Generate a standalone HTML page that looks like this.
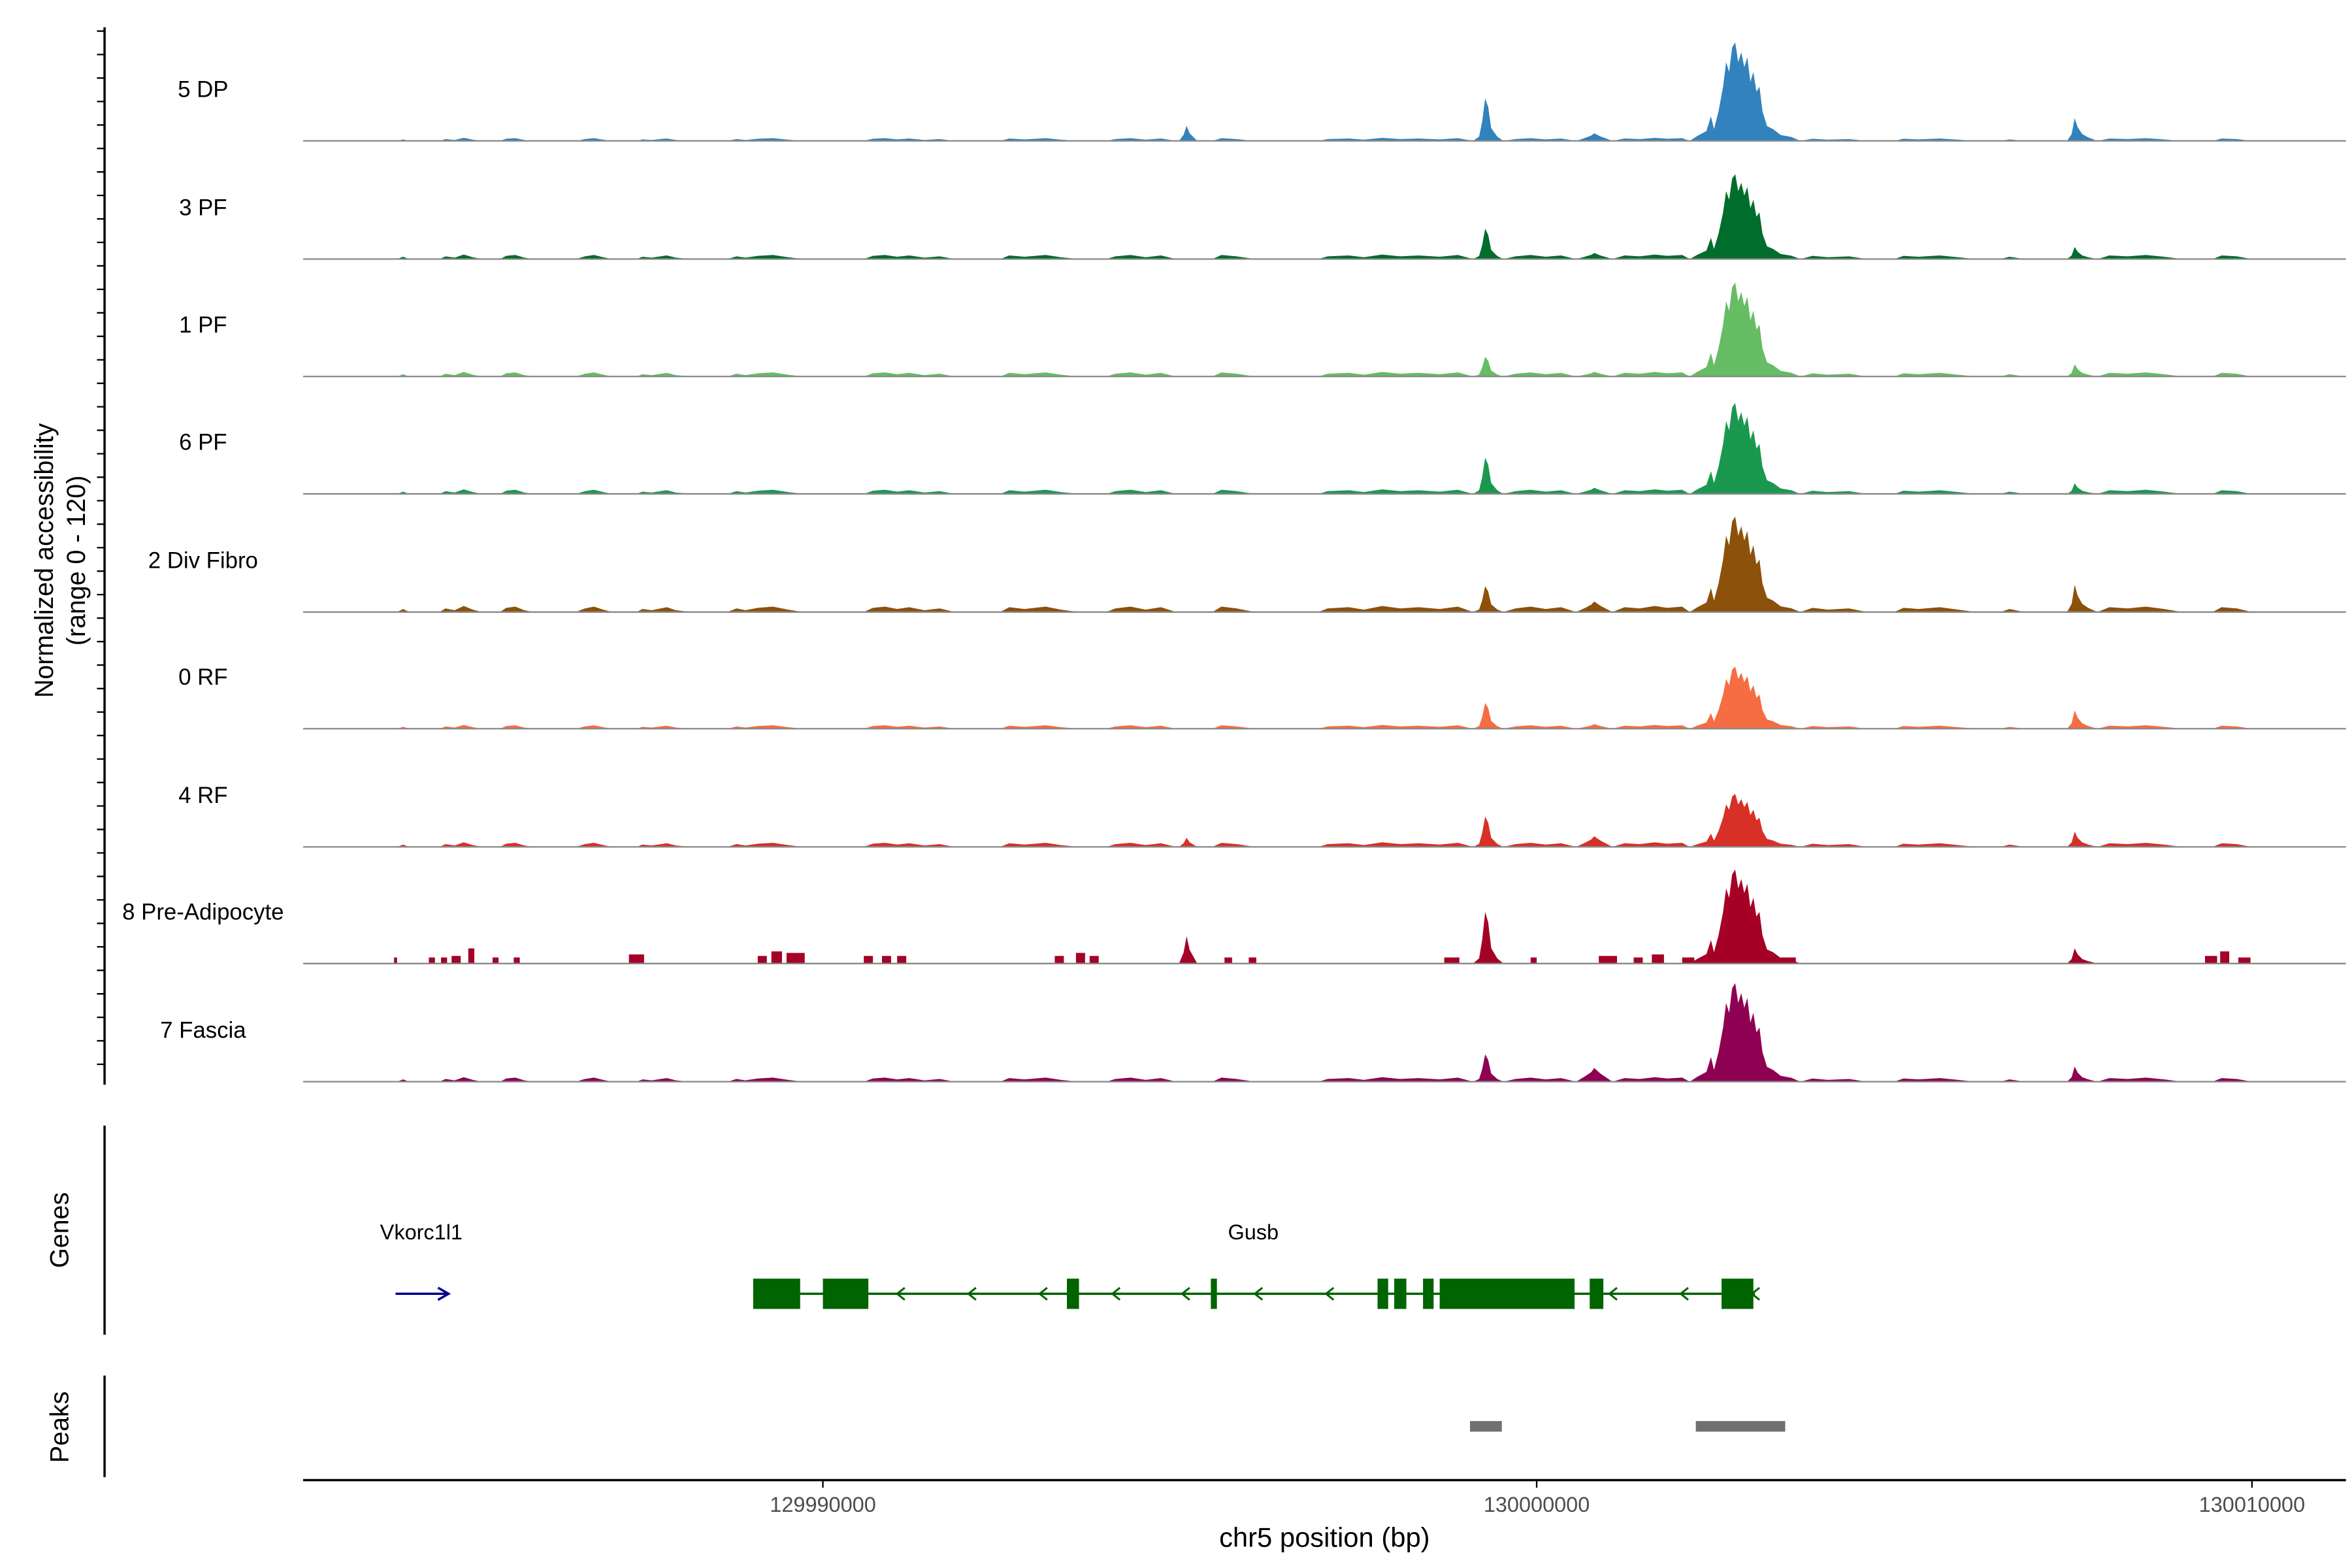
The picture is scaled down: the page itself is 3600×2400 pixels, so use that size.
<!DOCTYPE html>
<html><head><meta charset="utf-8"><style>html,body{margin:0;padding:0;background:#fff}svg{display:block}</style></head>
<body>
<svg width="3600" height="2400" viewBox="0 0 1552 1035" preserveAspectRatio="none" xmlns="http://www.w3.org/2000/svg" font-family="Liberation Sans, sans-serif">
<defs>
<path id="big" d="M1115,0 L1120,-0.05 L1126,-0.1 L1129,-0.25 L1131,-0.12 L1134,-0.3 L1137,-0.55 L1139,-0.8 L1141,-0.7 L1143,-0.95 L1145,-1 L1147,-0.8 L1149,-0.9 L1151,-0.75 L1153,-0.85 L1155,-0.6 L1157,-0.7 L1159,-0.5 L1161,-0.55 L1163,-0.3 L1166,-0.15 L1170,-0.12 L1175,-0.06 L1182,-0.04 L1188,0 Z"/>
<path id="p981" d="M972,0 L976,-0.1 L978,-0.45 L980,-1 L982,-0.8 L984,-0.3 L988,-0.1 L992,0 Z"/>
<path id="p1370" d="M1364,0 L1367,-0.3 L1369,-1 L1371,-0.6 L1374,-0.3 L1378,-0.15 L1384,0 Z"/>
<path id="p784" d="M778,0 L781,-0.4 L783,-1 L785,-0.5 L790,0 Z"/>
<path id="p1050" d="M1040,0 L1046,-0.4 L1050,-0.7 L1052,-1 L1056,-0.6 L1060,-0.3 L1064,0 Z"/>
<path id="nz" d="M262,0 L266,-0.5 L270,0 L290,0 L294,-0.6 L300,-0.3 L306,-1 L312,-0.4 L318,0 L330,0 L334,-0.7 L340,-0.9 L346,-0.3 L352,0 L380,0 L386,-0.6 L392,-0.9 L398,-0.4 L404,0 L420,0 L424,-0.5 L430,-0.3 L440,-0.8 L446,-0.3 L456,0 L480,0 L486,-0.6 L492,-0.3 L500,-0.7 L510,-0.9 L520,-0.4 L530,0 L570,0 L576,-0.7 L584,-0.9 L592,-0.5 L600,-0.8 L610,-0.3 L620,-0.6 L630,0 L660,0 L666,-0.8 L676,-0.5 L690,-0.9 L700,-0.4 L712,0 L730,0 L736,-0.6 L746,-0.9 L756,-0.4 L766,-0.8 L776,0 L800,0 L806,-0.9 L816,-0.6 L828,0 L870,0 L876,-0.6 L890,-0.8 L900,-0.4 L912,-1 L924,-0.6 L936,-0.8 L950,-0.5 L962,-0.9 L972,0 L992,0 L1000,-0.6 L1010,-0.9 L1020,-0.5 L1030,-0.8 L1040,0 L1064,0 L1072,-0.8 L1082,-0.6 L1092,-1 L1100,-0.7 L1110,-0.9 L1115,0 L1188,0 L1196,-0.7 L1206,-0.4 L1220,-0.6 L1232,0 L1250,0 L1256,-0.7 L1266,-0.5 L1280,-0.8 L1292,-0.4 L1304,0 L1320,0 L1326,-0.5 L1336,0 L1384,0 L1392,-0.8 L1404,-0.6 L1416,-0.9 L1428,-0.5 L1440,0 L1460,0 L1466,-0.8 L1476,-0.6 L1486,0 Z"/>
</defs>
<rect width="1552" height="1035" fill="#fff"/>
<line x1="69" y1="18" x2="69" y2="716" stroke="#000" stroke-width="1.5"/>
<line x1="66.5" y1="20" x2="66.5" y2="716" stroke="#000" stroke-width="5" stroke-dasharray="1 14.5"/>
<text transform="translate(35,370) rotate(-90)" text-anchor="middle" font-size="17">Normalized accessibility</text>
<text transform="translate(56,370) rotate(-90)" text-anchor="middle" font-size="17">(range 0 - 120)</text>

<g font-size="15" text-anchor="middle">
<g transform="translate(0,93)" fill="#3182bd">
<use href="#nz" transform="scale(1,2)"/>
<use href="#big" transform="scale(1,65)"/><use href="#p981" transform="scale(1,28)"/><use href="#p1370" transform="scale(1,15)"/><use href="#p784" transform="scale(1,10)"/><use href="#p1050" transform="scale(1,5)"/>
<line x1="200" y1="0" x2="1548" y2="0" stroke="#888" stroke-width="1"/>
<text x="134" y="-29" fill="#000">5 DP</text></g>
<g transform="translate(0,171)" fill="#006d2c">
<use href="#nz" transform="scale(1,3)"/>
<use href="#big" transform="scale(1,56)"/><use href="#p981" transform="scale(1,20)"/><use href="#p1370" transform="scale(1,8)"/><use href="#p1050" transform="scale(1,4)"/>
<line x1="200" y1="0" x2="1548" y2="0" stroke="#888"/>
<text x="134" y="-29" fill="#000">3 PF</text></g>
<g transform="translate(0,248.5)" fill="#66bd63">
<use href="#nz" transform="scale(1,3)"/>
<use href="#big" transform="scale(1,62)"/><use href="#p981" transform="scale(1,13)"/><use href="#p1370" transform="scale(1,8)"/><use href="#p1050" transform="scale(1,3)"/>
<line x1="200" y1="0" x2="1548" y2="0" stroke="#888"/>
<text x="134" y="-29" fill="#000">1 PF</text></g>
<g transform="translate(0,326)" fill="#1a9850">
<use href="#nz" transform="scale(1,3)"/>
<use href="#big" transform="scale(1,60)"/><use href="#p981" transform="scale(1,24)"/><use href="#p1370" transform="scale(1,7)"/><use href="#p1050" transform="scale(1,4)"/>
<line x1="200" y1="0" x2="1548" y2="0" stroke="#888"/>
<text x="134" y="-29" fill="#000">6 PF</text></g>
<g transform="translate(0,404)" fill="#8c510a">
<use href="#nz" transform="scale(1,4)"/>
<use href="#big" transform="scale(1,63)"/><use href="#p981" transform="scale(1,17)"/><use href="#p1370" transform="scale(1,18)"/><use href="#p1050" transform="scale(1,7)"/>
<line x1="200" y1="0" x2="1548" y2="0" stroke="#888"/>
<text x="134" y="-29" fill="#000">2 Div Fibro</text></g>
<g transform="translate(0,481)" fill="#f46d43">
<use href="#nz" transform="scale(1,2.5)"/>
<use href="#big" transform="scale(1,41)"/><use href="#p981" transform="scale(1,17)"/><use href="#p1370" transform="scale(1,12)"/><use href="#p1050" transform="scale(1,3)"/>
<line x1="200" y1="0" x2="1548" y2="0" stroke="#888"/>
<text x="134" y="-29" fill="#000">0 RF</text></g>
<g transform="translate(0,559)" fill="#d73027">
<use href="#nz" transform="scale(1,3)"/>
<use href="#big" transform="scale(1,35)"/><use href="#p981" transform="scale(1,20)"/><use href="#p1370" transform="scale(1,10)"/><use href="#p784" transform="scale(1,6)"/><use href="#p1050" transform="scale(1,7)"/>
<line x1="200" y1="0" x2="1548" y2="0" stroke="#888"/>
<text x="134" y="-29" fill="#000">4 RF</text></g>
<g transform="translate(0,636)" fill="#a50026">
<rect x="260" y="-4" width="2" height="4"/><rect x="283" y="-4" width="4" height="4"/><rect x="291" y="-4" width="4" height="4"/><rect x="298" y="-5" width="6" height="5"/><rect x="309" y="-10" width="4" height="10"/><rect x="325" y="-4" width="4" height="4"/><rect x="339" y="-4" width="4" height="4"/><rect x="415" y="-6" width="10" height="6"/><rect x="500" y="-5" width="6" height="5"/><rect x="509" y="-8" width="7" height="8"/><rect x="519" y="-7" width="12" height="7"/><rect x="570" y="-5" width="6" height="5"/><rect x="582" y="-5" width="6" height="5"/><rect x="592" y="-5" width="6" height="5"/><rect x="696" y="-5" width="6" height="5"/><rect x="710" y="-7" width="6" height="7"/><rect x="719" y="-5" width="6" height="5"/><rect x="808" y="-4" width="5" height="4"/><rect x="824" y="-4" width="5" height="4"/><rect x="953" y="-4" width="10" height="4"/><rect x="1010" y="-4" width="4" height="4"/><rect x="1055" y="-5" width="12" height="5"/><rect x="1078" y="-4" width="6" height="4"/><rect x="1090" y="-6" width="8" height="6"/><rect x="1110" y="-4" width="8" height="4"/><rect x="1175" y="-4" width="10" height="4"/><rect x="1455" y="-5" width="8" height="5"/><rect x="1465" y="-8" width="6" height="8"/><rect x="1477" y="-4" width="8" height="4"/>
<use href="#big" transform="scale(1,62)"/><use href="#p981" transform="scale(1,34)"/><use href="#p1370" transform="scale(1,10)"/><use href="#p784" transform="scale(1,18)"/>
<line x1="200" y1="0" x2="1548" y2="0" stroke="#888"/>
<text x="134" y="-29" fill="#000">8 Pre-Adipocyte</text></g>
<g transform="translate(0,714)" fill="#8e0152">
<use href="#nz" transform="scale(1,3)"/>
<use href="#big" transform="scale(1,65)"/><use href="#p981" transform="scale(1,18)"/><use href="#p1370" transform="scale(1,10)"/><use href="#p1050" transform="scale(1,9)"/>
<line x1="200" y1="0" x2="1548" y2="0" stroke="#888"/>
<text x="134" y="-29" fill="#000">7 Fascia</text></g>
</g>

<line x1="69" y1="743" x2="69" y2="881" stroke="#000" stroke-width="1.5"/>
<text transform="translate(45,812) rotate(-90)" text-anchor="middle" font-size="17">Genes</text>
<text x="278" y="818" text-anchor="middle" font-size="14">Vkorc1l1</text>
<text x="827" y="818" text-anchor="middle" font-size="14">Gusb</text>
<line x1="261" y1="854" x2="295" y2="854" stroke="#00008b" stroke-width="1.5"/>
<path d="M289,850 L296,854 L289,858" fill="none" stroke="#00008b" stroke-width="1.5"/>
<g fill="#006400" stroke="#006400">
<line x1="497" y1="854" x2="1158" y2="854" stroke-width="1.5"/>
<rect x="497" y="844" width="31" height="20" stroke="none"/><rect x="543" y="844" width="30" height="20" stroke="none"/><rect x="704" y="844" width="8" height="20" stroke="none"/><rect x="799" y="844" width="4" height="20" stroke="none"/><rect x="909" y="844" width="7" height="20" stroke="none"/><rect x="920" y="844" width="8" height="20" stroke="none"/><rect x="939" y="844" width="7" height="20" stroke="none"/><rect x="950" y="844" width="89" height="20" stroke="none"/><rect x="1049" y="844" width="9" height="20" stroke="none"/><rect x="1136" y="844" width="21" height="20" stroke="none"/>
<path d="M597,850 L592,854 L597,858 M644,850 L639,854 L644,858 M691,850 L686,854 L691,858 M739,850 L734,854 L739,858 M785,850 L780,854 L785,858 M833,850 L828,854 L833,858 M880,850 L875,854 L880,858 M1067,850 L1062,854 L1067,858 M1114,850 L1109,854 L1114,858 M1161,850 L1156,854 L1161,858" fill="none" stroke-width="1.3"/>
</g>

<line x1="69" y1="908" x2="69" y2="975" stroke="#000" stroke-width="1.5"/>
<text transform="translate(45,942) rotate(-90)" text-anchor="middle" font-size="17">Peaks</text>
<rect x="970" y="938" width="21" height="7" fill="#707070"/>
<rect x="1119" y="938" width="59" height="7" fill="#707070"/>

<line x1="200" y1="977" x2="1548" y2="977" stroke="#000" stroke-width="1.5"/>
<g stroke="#000"><line x1="543" y1="977" x2="543" y2="982"/><line x1="1014" y1="977" x2="1014" y2="982"/><line x1="1486" y1="977" x2="1486" y2="982"/></g>
<g font-size="14" fill="#4d4d4d" text-anchor="middle"><text x="543" y="998">129990000</text><text x="1014" y="998">130000000</text><text x="1486" y="998">130010000</text></g>
<text x="874" y="1021" text-anchor="middle" font-size="18">chr5 position (bp)</text>
</svg>
</body></html>
